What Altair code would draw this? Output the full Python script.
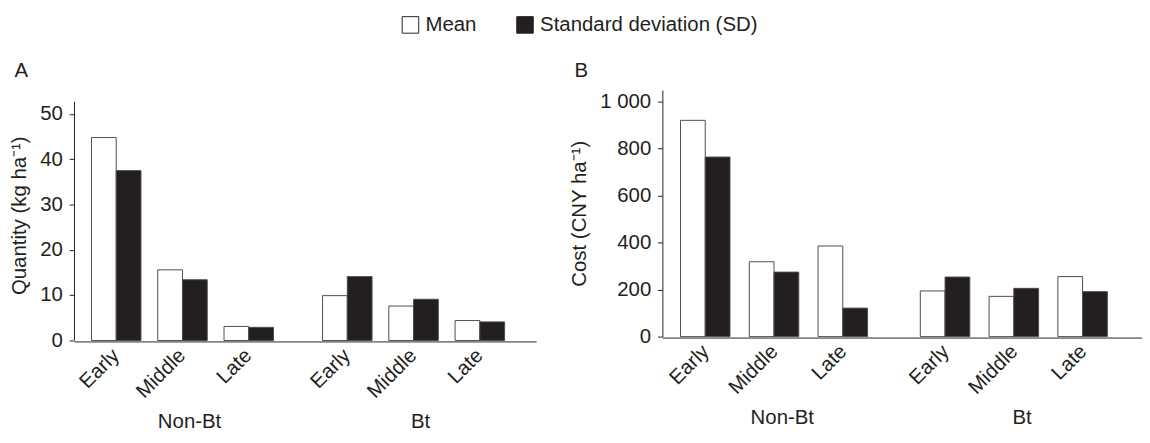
import altair as alt
import pandas as pd

# ---- data ----
groups = ["Non-Bt", "Non-Bt", "Non-Bt", "Bt", "Bt", "Bt"]
stages = ["Early", "Middle", "Late", "Early", "Middle", "Late"]
qty_mean = [44.8, 15.6, 3.1, 9.9, 7.6, 4.4]
qty_sd = [37.5, 13.4, 2.9, 14.1, 9.1, 4.1]
cost_mean = [919, 318, 385, 194, 171, 255]
cost_sd = [763, 274, 121, 253, 205, 191]
statistics = ["Mean", "Standard deviation (SD)"]
group_order = ["Non-Bt", "Bt"]
stage_order = ["Early", "Middle", "Late"]
qty_ticks = [0, 10, 20, 30, 40, 50]
cost_ticks = [0, 200, 400, 600, 800, 1000]

INK = "#231f20"
FONT = "Liberation Sans"
FS = 21


def make_df(means, sds):
    rows = []
    for g, s, m, d in zip(groups, stages, means, sds):
        rows.append({"group": g, "stage": s, "stat": statistics[0], "value": m})
        rows.append({"group": g, "stage": s, "stat": statistics[1], "value": d})
    return pd.DataFrame(rows)


legend = alt.Legend(
    title=None,
    orient="none",
    legendX=336,
    legendY=-78,
    direction="horizontal",
    symbolType="square",
    symbolSize=290,
    symbolStrokeColor=INK,
    symbolStrokeWidth=1,
    labelFontSize=FS,
    labelFont=FONT,
    labelColor=INK,
    labelOffset=5,
    columnPadding=38,
    labelLimit=400,
)


def panel(df, ytitle, ydomain, axis_top, yvalues, cell_w, cell_h, letter, label_expr=None):
    draw_rule = axis_top is not None
    yaxis_kwargs = dict(
        title=ytitle,
        values=yvalues,
        grid=False,
        tickSize=5,
        labelPadding=7,
        titlePadding=11,
        domain=not draw_rule,
    )
    if label_expr:
        yaxis_kwargs["labelExpr"] = label_expr
    bars = alt.Chart().mark_bar(stroke="#4a4a4a", strokeWidth=1).encode(
        x=alt.X(
            "stage:N",
            sort=stage_order,
            scale=alt.Scale(paddingInner=0.253, paddingOuter=0.37, align=0.356),
            axis=alt.Axis(
                title=None,
                labelAngle=-45,
                labelAlign="right",
                labelBaseline="middle",
                ticks=False,
                labelPadding=11,
            ),
        ),
        xOffset=alt.XOffset(
            "stat:N", sort=statistics, scale=alt.Scale(paddingInner=0, paddingOuter=0)
        ),
        y=alt.Y(
            "value:Q",
            scale=alt.Scale(domain=ydomain, nice=False, zero=True),
            axis=alt.Axis(**yaxis_kwargs),
        ),
        color=alt.Color(
            "stat:N",
            sort=statistics,
            scale=alt.Scale(domain=statistics, range=["white", INK]),
            legend=legend,
        ),
    )
    layers = [bars]
    if draw_rule:
        # y-axis line running from 0 up to the top of the axis, first cell only
        rule = (
            alt.Chart()
            .transform_filter(
                f"datum.group == '{group_order[0]}' && datum.stage == '{stage_order[0]}' "
                f"&& datum.stat == '{statistics[0]}'"
            )
            .mark_rule(color=INK, strokeWidth=1)
            .encode(
                x=alt.value(0.5),
                y=alt.YDatum(0, type="quantitative", axis=alt.Axis(**yaxis_kwargs)),
                y2=alt.Y2Datum(axis_top),
            )
        )
        layers.append(rule)
    layered = alt.layer(*layers, data=df).properties(width=cell_w, height=cell_h)
    return layered.facet(
        column=alt.Column(
            "group:N",
            sort=group_order,
            header=alt.Header(
                title=None,
                orient="bottom",
                labelOrient="bottom",
                labelFontSize=FS,
                labelFont=FONT,
                labelColor=INK,
                labelPadding=10,
            ),
        ),
        spacing=0,
        title=alt.TitleParams(
            letter,
            anchor="start",
            fontSize=FS,
            fontWeight="normal",
            font=FONT,
            color=INK,
            offset=9,
            dx=6,
        ),
    )


panel_a = panel(
    make_df(qty_mean, qty_sd),
    "Quantity (kg ha⁻¹)",
    [0, 55.3],
    52.7,
    qty_ticks,
    238,
    258,
    "A",
)
panel_b = panel(
    make_df(cost_mean, cost_sd),
    "Cost (CNY ha⁻¹)",
    [0, 1048],
    None,
    cost_ticks,
    247,
    254,
    "B",
    label_expr="replace(format(datum.value, ','), ',', ' ')",
)

chart = (
    alt.hconcat(panel_a, panel_b, spacing=33)
    .properties(padding={"left": 0, "top": 0, "right": 0, "bottom": 0})
    .configure_view(stroke=None)
    .configure_axis(
        domainColor=INK,
        domainWidth=1,
        tickColor=INK,
        labelColor=INK,
        titleColor=INK,
        labelFont=FONT,
        titleFont=FONT,
        labelFontSize=FS,
        titleFontSize=FS,
        titleFontWeight="normal",
    )
)

chart.save("out.html", embed_options={"renderer": "svg", "actions": False})
